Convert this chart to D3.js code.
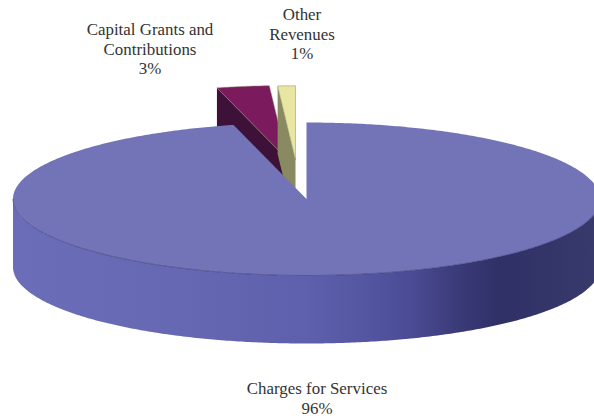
<!DOCTYPE html>
<html>
<head>
<meta charset="utf-8">
<title>Revenue sources</title>
<script src="https://cdn.jsdelivr.net/npm/d3@7"></script>
<style>
  html, body { margin: 0; padding: 0; background: #fff; }
  svg { display: block; }
  text { font-family: "Liberation Serif", serif; font-size: 16.9px; fill: #333; text-anchor: middle; }
</style>
</head>
<body>
<div id="chart"></div>
<script>
// Revenue shares, clockwise from twelve o'clock
const categories = ["Charges for Services", "Capital Grants and Contributions", "Other Revenues"];
const shares = [96, 3, 1];
const shareLabels = ["96%", "3%", "1%"];

const width = 594, height = 419;
const depth = 68;

// Tilted disc: unit coordinates to page pixels
const x = d3.scaleLinear().domain([-1, 1]).range([13, 600]);
const y = d3.scaleLinear().domain([-1, 1]).range([122.5, 275.5]);

const sliceStyles = [
  { top: "#7274b7", wall: "url(#rimShade)", shift: [0, 0], radius: 1 },
  { top: "#7b1a5c", wall: "#3e1238", shift: [-19.5, -40], radius: 0.96 },
  { top: "#e9e5a2", wall: "#8a8a62", shift: [-11, -39], radius: 0.97 }
];

const labelLayout = [
  { cx: 317, lines: ["Charges for Services"], baseline: 394, gap: 19.6 },
  { cx: 150, lines: ["Capital Grants and", "Contributions"], baseline: 35, gap: 19.6 },
  { cx: 302, lines: ["Other", "Revenues"], baseline: 20, gap: 19.6 }
];

const arcs = d3.pie().sort(null).value(d => d)(shares);

const svg = d3.select("#chart").append("svg")
  .attr("width", width).attr("height", height);

// Rim shading runs left to right across the whole disc
const grad = svg.append("defs").append("linearGradient")
  .attr("id", "rimShade")
  .attr("gradientUnits", "userSpaceOnUse")
  .attr("x1", x(-1)).attr("x2", x(1)).attr("y1", 0).attr("y2", 0);
[[0, "#6b6db9"], [0.28, "#6668b3"], [0.5, "#5f60ad"], [0.6, "#5556a2"],
 [0.68, "#4a4b94"], [0.76, "#3a3a78"], [0.83, "#2f3066"], [1, "#383a6c"]]
  .forEach(([o, c]) => grad.append("stop").attr("offset", o).attr("stop-color", c));

const line = d3.line();
const rimPoint = (a, r = 1) => [x(r * Math.sin(a)), y(-r * Math.cos(a))];
const arcPoints = (a0, a1, r = 1) => {
  const n = Math.max(2, Math.ceil(Math.abs(a1 - a0) / 0.01));
  return d3.range(n + 1).map(i => rimPoint(a0 + (a1 - a0) * i / n, r));
};

// Wedges furthest back first, so the large slice overlaps their walls
[1, 2, 0].forEach(i => {
  const d = arcs[i], s = sliceStyles[i];
  const g = svg.append("g").attr("transform", `translate(${s.shift[0]},${s.shift[1]})`);
  const centre = [x(0), y(0)];

  if (i === 0) {
    // Front half of the outer rim, where the wall faces the viewer
    const front = arcPoints(Math.PI / 2, 3 * Math.PI / 2);
    const lower = front.slice().reverse().map(p => [p[0], p[1] + depth]);
    g.append("path")
      .attr("d", line(front.concat(lower)) + "Z")
      .attr("fill", s.wall);
  } else {
    // Cut face on the left side of an exploded wedge
    const edge = rimPoint(d.startAngle, s.radius);
    g.append("path")
      .attr("d", line([edge, centre, [centre[0], centre[1] + depth], [edge[0], edge[1] + depth]]) + "Z")
      .attr("fill", s.wall);
  }

  g.append("path")
    .attr("d", line([centre].concat(arcPoints(d.startAngle, d.endAngle, s.radius))) + "Z")
    .attr("fill", s.top)
    .attr("stroke", i === 0 ? "none" : "#8f8b6a")
    .attr("stroke-width", 0.5)
    .attr("stroke-linejoin", "round");

  // Thin dark seam where the top of the large slice meets its rim
  if (i === 0) {
    g.append("path")
      .attr("d", line(arcPoints(Math.PI / 2, 3 * Math.PI / 2)))
      .attr("fill", "none")
      .attr("stroke", "#3d3e7e")
      .attr("stroke-width", 0.7);
  }
});

// Category names with the share on the closing line
categories.forEach((name, i) => {
  const l = labelLayout[i];
  const t = svg.append("text");
  l.lines.concat(shareLabels[i]).forEach((str, k) => {
    t.append("tspan").attr("x", l.cx).attr("y", l.baseline + k * l.gap).text(str);
  });
});
</script>
</body>
</html>
